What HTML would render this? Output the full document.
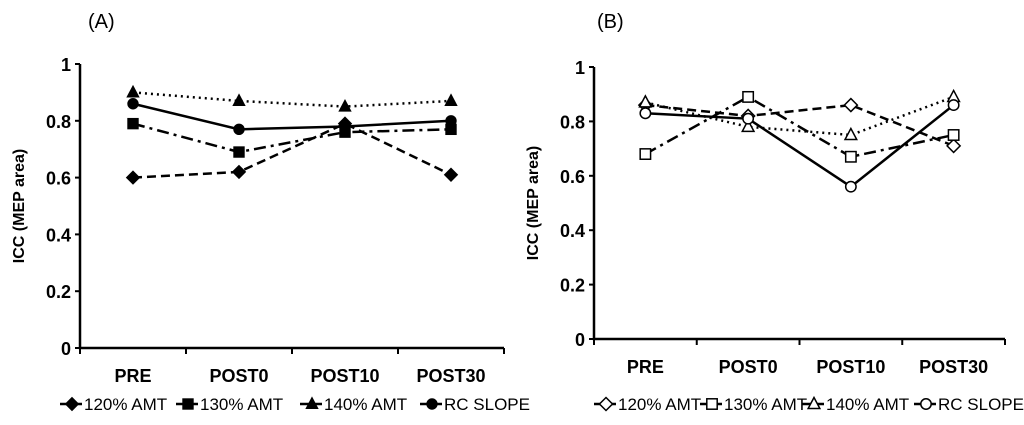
<!DOCTYPE html>
<html><head><meta charset="utf-8"><style>
body{margin:0;background:#fff;width:1024px;height:420px;overflow:hidden}
svg text{font-family:"Liberation Sans",Arial,sans-serif;fill:#000}
.tk{font-size:18px;font-weight:bold}
.cat{font-size:18px;font-weight:bold}
.lg{font-size:17px}
</style></head><body>
<svg id="c" width="1024" height="420" xmlns="http://www.w3.org/2000/svg"></svg>
<script>
const categories=["PRE","POST0","POST10","POST30"];
const yTicks=[0,0.2,0.4,0.6,0.8,1];
const seriesNames=["120% AMT","130% AMT","140%  AMT","RC SLOPE"];
const a120=[0.60,0.62,0.79,0.61];
const a130=[0.79,0.69,0.76,0.77];
const a140=[0.90,0.87,0.85,0.87];
const aRC=[0.86,0.77,0.78,0.80];
const b120=[0.86,0.82,0.86,0.71];
const b130=[0.68,0.89,0.67,0.75];
const b140=[0.87,0.78,0.75,0.89];
const bRC=[0.83,0.81,0.56,0.86];
const NS="http://www.w3.org/2000/svg";
const svg=document.getElementById('c');
function el(t,a,p){const e=document.createElementNS(NS,t);for(const k in a)e.setAttribute(k,a[k]);(p||svg).appendChild(e);return e;}
const dashes=["9,5","12,5,3,5","2,4",""];
function marker(g,kind,x,y,filled,s){
  const st={fill:filled?"#000":"#fff",stroke:"#000","stroke-width":filled?1:1.5};
  let m;
  if(kind===0){m=el('polygon',Object.assign({points:`${x},${y-s} ${x+s},${y} ${x},${y+s} ${x-s},${y}`},st),g);}
  else if(kind===1){m=el('rect',Object.assign({x:x-s*0.8,y:y-s*0.8,width:s*1.6,height:s*1.6},st),g);}
  else if(kind===2){m=el('polygon',Object.assign({points:`${x},${y-s} ${x+s*0.9},${y+s*0.7} ${x-s*0.9},${y+s*0.7}`},st),g);}
  else {m=el('circle',Object.assign({cx:x,cy:y,r:s*0.8},st),g);}
  return m;
}
function chart(id,x0,x1,yTop,yBot,data,filled,label,labX,legendX){
  const g=el('g',{});
  
  
  const band=(x1-x0)/categories.length;
  const xs=i=>x0+band*(i+0.5);
  const ys=v=>yBot-(yBot-yTop)*v;
  const pl=el('text',{x:labX,y:28,'font-size':20});pl.textContent=label;
  
  
  const ax=el('path',{d:`M${x0},${yTop} V${yBot} H${x1}`,stroke:'#000','stroke-width':2.5,fill:'none'},g);
  
  
  yTicks.forEach(v=>{
    el('line',{x1:x0-5,x2:x0,y1:ys(v),y2:ys(v),stroke:'#000','stroke-width':2},g);
    const t=el('text',{x:x0-9,y:ys(v)+7,'text-anchor':'end',class:'tk'},g);t.textContent=v;
    
    
  });
  for(let i=0;i<=categories.length;i++){el('line',{x1:x0+band*i,x2:x0+band*i,y1:yBot,y2:yBot+6,stroke:'#000','stroke-width':2},g);}
  categories.forEach((c,i)=>{const t=el('text',{x:xs(i),y:yBot+34,'text-anchor':'middle',class:'cat'},g);t.textContent=c;
    
    });
  const yt=el('text',{transform:`translate(${x0-56},${(yTop+yBot)/2}) rotate(-90)`,'text-anchor':'middle','font-size':16,'font-weight':'bold'},g);
  yt.textContent="ICC (MEP area)";
  
  
  data.forEach((d,k)=>{
    const pts=d.map((v,i)=>xs(i)+","+ys(v)).join(" ");
    const l=el('polyline',{points:pts,fill:'none',stroke:'#000','stroke-width':2.5,'stroke-dasharray':dashes[k]},g);
    
    
    d.forEach((v,i)=>{const m=marker(g,k,xs(i),ys(v),filled,6.5);
      
      });
  });
  legendX.forEach((lx,k)=>{
    const ly=404;
    el('line',{x1:lx-12,x2:lx+10,y1:ly,y2:ly,stroke:'#000','stroke-width':2.5},g);
    const m=marker(g,k,lx,ly,filled,6.5);
    
    
    const t=el('text',{x:lx+12,y:ly+6,class:'lg'},g);t.textContent=seriesNames[k];
    
    
  });
}
chart('a',80,504,64,348,[a120,a130,a140,aRC],true,"(A)",88,[72,188,312,432]);
chart('b',594,1005,67,339,[b120,b130,b140,bRC],false,"(B)",597,[606,712,814,926]);
</script>
</body></html>
